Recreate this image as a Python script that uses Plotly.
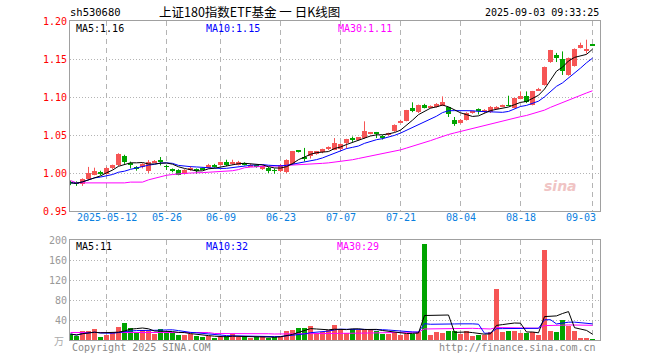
import plotly.graph_objects as go
import pandas as pd

# ---------------- data ----------------
dates = [
    "2025-04-29", "2025-04-30",
    "2025-05-06", "2025-05-07", "2025-05-08", "2025-05-09",
    "2025-05-12", "2025-05-13", "2025-05-14", "2025-05-15", "2025-05-16",
    "2025-05-19", "2025-05-20", "2025-05-21", "2025-05-22", "2025-05-23",
    "2025-05-26", "2025-05-27", "2025-05-28", "2025-05-29", "2025-05-30",
    "2025-06-03", "2025-06-04", "2025-06-05", "2025-06-06",
    "2025-06-09", "2025-06-10", "2025-06-11", "2025-06-12", "2025-06-13",
    "2025-06-16", "2025-06-17", "2025-06-18", "2025-06-19", "2025-06-20",
    "2025-06-23", "2025-06-24", "2025-06-25", "2025-06-26", "2025-06-27",
    "2025-06-30", "2025-07-01", "2025-07-02", "2025-07-03", "2025-07-04",
    "2025-07-07", "2025-07-08", "2025-07-09", "2025-07-10", "2025-07-11",
    "2025-07-14", "2025-07-15", "2025-07-16", "2025-07-17", "2025-07-18",
    "2025-07-21", "2025-07-22", "2025-07-23", "2025-07-24", "2025-07-25",
    "2025-07-28", "2025-07-29", "2025-07-30", "2025-07-31", "2025-08-01",
    "2025-08-04", "2025-08-05", "2025-08-06", "2025-08-07", "2025-08-08",
    "2025-08-11", "2025-08-12", "2025-08-13", "2025-08-14", "2025-08-15",
    "2025-08-18", "2025-08-19", "2025-08-20", "2025-08-21", "2025-08-22",
    "2025-08-25", "2025-08-26", "2025-08-27", "2025-08-28", "2025-08-29",
    "2025-09-01", "2025-09-02", "2025-09-03",
]

opens = [0.988, 0.987, 0.985, 0.992, 0.998, 1.001, 0.999, 1.006, 1.0105, 1.023,
         1.012, 1.007, 1.008, 1.002, 1.0145, 1.0165, 1.009, 1.005, 1.004, 0.999,
         1.005, 1.005, 1.0055, 1.0065, 1.011, 1.011, 1.014, 1.012, 1.011, 1.013,
         1.009, 1.0105, 1.005, 1.007, 1.0035, 1.002, 1.0008, 1.0122, 1.0295, 1.0205,
         1.022, 1.0254, 1.027, 1.032, 1.0307, 1.0316, 1.0395, 1.045, 1.0438, 1.046,
         1.052, 1.0525, 1.049, 1.050, 1.0547, 1.067, 1.069, 1.085, 1.080, 1.090,
         1.0855, 1.087, 1.0883, 1.0865, 1.070, 1.066, 1.070, 1.079, 1.084, 1.080,
         1.080, 1.084, 1.088, 1.089, 1.0855, 1.0974, 1.1017, 1.090, 1.1087, 1.116,
         1.1455, 1.1557, 1.150, 1.1293, 1.141, 1.1645, 1.160, 1.168]

highs = [0.990, 0.989, 0.993, 1.008, 1.007, 1.003, 1.008, 1.011, 1.026, 1.024,
         1.015, 1.009, 1.013, 1.017, 1.017, 1.021, 1.011, 1.006, 1.005, 1.005,
         1.009, 1.006, 1.007, 1.012, 1.012, 1.015, 1.0175, 1.0175, 1.016, 1.014,
         1.012, 1.011, 1.010, 1.008, 1.006, 1.012, 1.018, 1.029, 1.030, 1.033,
         1.029, 1.029, 1.032, 1.035, 1.046, 1.039, 1.045, 1.048, 1.047, 1.068,
         1.054, 1.054, 1.050, 1.053, 1.064, 1.070, 1.083, 1.093, 1.090, 1.091,
         1.089, 1.092, 1.1008, 1.087, 1.0737, 1.071, 1.080, 1.082, 1.085, 1.084,
         1.088, 1.088, 1.090, 1.1017, 1.099, 1.1074, 1.1074, 1.108, 1.112, 1.140,
         1.162, 1.158, 1.160, 1.152, 1.164, 1.1715, 1.1754, 1.168]

lows = [0.984, 0.983, 0.983, 0.991, 0.997, 0.997, 0.998, 1.005, 1.009, 1.012,
        1.006, 1.003, 1.006, 1.000, 1.013, 1.010, 1.004, 1.001, 0.997, 0.998,
        1.003, 0.999, 1.004, 1.006, 1.007, 1.010, 1.009, 1.011, 1.010, 1.010,
        1.008, 1.007, 1.004, 1.000, 0.999, 1.001, 1.000, 1.011, 1.027, 1.0153,
        1.019, 1.024, 1.026, 1.030, 1.030, 1.029, 1.032, 1.041, 1.043, 1.045,
        1.051, 1.046, 1.044, 1.049, 1.054, 1.066, 1.068, 1.080, 1.079, 1.085,
        1.085, 1.086, 1.088, 1.0737, 1.062, 1.065, 1.069, 1.078, 1.077, 1.079,
        1.079, 1.083, 1.087, 1.088, 1.085, 1.097, 1.092, 1.089, 1.108, 1.115,
        1.145, 1.146, 1.129, 1.128, 1.140, 1.164, 1.157, 1.1675]

closes = [0.987, 0.986, 0.992, 1.000, 1.003, 1.000, 1.006, 1.010, 1.025, 1.015,
          1.011, 1.006, 1.012, 1.015, 1.015, 1.016, 1.008, 1.004, 0.998, 1.004,
          1.0055, 1.002, 1.005, 1.011, 1.008, 1.014, 1.010, 1.014, 1.015, 1.011,
          1.011, 1.008, 1.0087, 1.0026, 1.003, 1.010, 1.0175, 1.0284, 1.029, 1.0197,
          1.0284, 1.0284, 1.0316, 1.033, 1.040, 1.038, 1.0447, 1.0447, 1.0468, 1.0547,
          1.0526, 1.052, 1.0455, 1.0526, 1.0636, 1.068, 1.0824, 1.081, 1.089, 1.0855,
          1.0886, 1.091, 1.093, 1.077, 1.065, 1.070, 1.079, 1.081, 1.081, 1.083,
          1.0868, 1.087, 1.0886, 1.0886, 1.0987, 1.1017, 1.093, 1.1074, 1.1105, 1.1395,
          1.1613, 1.1513, 1.1337, 1.1513, 1.163, 1.1688, 1.1635, 1.1679]

# volume, in 万 (10k) lots
volumes = [12, 8, 18, 18, 22, 6, 10, 14, 26, 34,
           24, 16, 20, 18, 12, 22, 16, 16, 10, 10,
           12, 8, 6, 8, 4, 6, 8, 12, 6, 8,
           4, 6, 8, 4, 6, 8, 18, 20, 24, 24,
           28, 14, 16, 20, 30, 23, 15, 23, 21, 23,
           21, 18, 12, 13, 17, 10, 13, 13, 17, 192,
           10, 16, 14, 18, 18, 12, 18, 8, 10, 10,
           16, 102, 16, 18, 18, 14, 14, 16, 10, 180,
           18, 17, 40, 29, 19, 5, 3, 2]

# MA30 of the first 29 sessions relies on history before the chart window
ma30_lead = [0.990, 0.987, 0.987, 0.987, 0.987, 0.987, 0.987, 0.987, 0.987, 0.987,
             0.988, 0.988, 0.988, 0.991, 0.993, 0.9955, 0.997, 0.998, 0.999, 0.9995,
             1.000, 1.000, 1.0005, 1.001, 1.0013, 1.0015, 1.002, 1.003, 1.0045]
vol_ma30_lead = [15, 15, 15, 15, 15, 15, 15, 15, 15, 15,
                 15, 15, 15, 15, 15, 15, 15, 15, 15, 15,
                 15, 15, 15, 15, 13, 13, 13, 13, 13]

tick_dates = ["2025-05-12", "2025-05-26", "2025-06-09", "2025-06-23", "2025-07-07",
              "2025-07-21", "2025-08-04", "2025-08-18", "2025-09-03"]
tick_labels = ["2025-05-12", "05-26", "06-09", "06-23", "07-07",
               "07-21", "08-04", "08-18", "09-03"]
price_ticks = [0.95, 1.00, 1.05, 1.10, 1.15, 1.20]
vol_ticks = [40, 80, 120, 160, 200]

code = "sh530680"
title_text = "上证180指数ETF基金 一 日K线图"
timestamp = "2025-09-03 09:33:25"

# ---------------- derived ----------------
n = len(dates)
idx = list(range(n))
c = pd.Series(closes)
ma5 = c.rolling(5, min_periods=1).mean()
ma10 = c.rolling(10, min_periods=1).mean()
ma30 = c.rolling(30).mean()
ma30.iloc[:len(ma30_lead)] = ma30_lead
v = pd.Series(volumes, dtype=float)
vma5 = v.rolling(5, min_periods=1).mean()
vma10 = v.rolling(10, min_periods=1).mean()
vma30 = v.rolling(30).mean()
vma30.iloc[:len(vol_ma30_lead)] = vol_ma30_lead

RED = "#f65555"
GREEN = "#00a400"
GRID = "#b4b4b4"
BORDER = "#a0a0a0"
MONO = "DejaVu Sans Mono"
CJK = "Noto Sans CJK SC"

up = [cl >= op for op, cl in zip(opens, closes)]
min_body = 0.0012

fig = go.Figure()

for is_up, col in ((True, RED), (False, GREEN)):
    sel = [i for i in idx if up[i] == is_up]
    # wicks
    wx, wy = [], []
    for i in sel:
        wx += [i, i, None]
        wy += [lows[i], highs[i], None]
    fig.add_trace(go.Scatter(x=wx, y=wy, mode="lines", line=dict(color=col, width=1),
                             hoverinfo="skip", xaxis="x", yaxis="y"))
    # bodies
    bases, hts = [], []
    for i in sel:
        lo, hi = min(opens[i], closes[i]), max(opens[i], closes[i])
        h = hi - lo
        if h < min_body:
            lo = (lo + hi) / 2 - min_body / 2
            h = min_body
        bases.append(lo)
        hts.append(h)
    fig.add_trace(go.Bar(x=sel, y=hts, base=bases, width=0.8, marker=dict(color=col, line=dict(width=0)),
                         xaxis="x", yaxis="y"))
    # volume bars
    fig.add_trace(go.Bar(x=sel, y=[volumes[i] for i in sel], width=0.8,
                         marker=dict(color=col, line=dict(width=0)), xaxis="x2", yaxis="y2"))

for s, col in ((ma30, "#ff00ff"), (ma10, "#0000ff"), (ma5, "#000000")):
    fig.add_trace(go.Scatter(x=idx, y=s, mode="lines", line=dict(color=col, width=1),
                             xaxis="x", yaxis="y"))
for s, col in ((vma30, "#ff00ff"), (vma10, "#0000ff"), (vma5, "#000000")):
    fig.add_trace(go.Scatter(x=idx, y=s, mode="lines", line=dict(color=col, width=1),
                             xaxis="x2", yaxis="y2"))

tick_idx = [dates.index(d) for d in tick_dates]
xr = [-1 / 12, n + 0.25]

L, R, T, B = 70, 60, 21, 20
W, H = 660, 360
PW, PH = W - L - R, H - T - B


def px(x):
    return (x - L) / PW


def py(y):
    return (H - B - y) / PH


common_x = dict(range=xr, tickvals=tick_idx, showticklabels=False, ticks="",
                showgrid=True, gridcolor=GRID, griddash="5px,4px", gridwidth=1,
                showline=True, mirror=True, linecolor=BORDER, linewidth=1, zeroline=False)

fig.update_layout(
    width=W, height=H, margin=dict(l=L, r=R, t=T, b=B),
    paper_bgcolor="white", plot_bgcolor="white", showlegend=False,
    barmode="overlay", bargap=0,
    xaxis=dict(domain=[0, 1], anchor="y", **common_x),
    xaxis2=dict(domain=[0, 1], anchor="y2", matches="x", **common_x),
    yaxis=dict(domain=[py(211), 1], anchor="x", range=[price_ticks[0], price_ticks[-1]],
               tickvals=price_ticks, ticktext=[f"{t:.2f}" for t in price_ticks],
               tickfont=dict(color="#ff0000", size=10, family=MONO), ticks="",
               showgrid=True, gridcolor=GRID, griddash="1px,2px", gridwidth=1,
               showline=True, mirror=True, linecolor=BORDER, linewidth=1, zeroline=False),
    yaxis2=dict(domain=[0, py(240)], anchor="x2", range=[0, vol_ticks[-1]],
                tickvals=vol_ticks, ticktext=[str(t) for t in vol_ticks],
                tickfont=dict(color="#999999", size=10, family=MONO), ticks="",
                showgrid=True, gridcolor=GRID, griddash="1px,2px", gridwidth=1,
                showline=True, mirror=True, linecolor=BORDER, linewidth=1, zeroline=False),
)

ann = []


def txt(x, y, s, color="#000000", size=10, family=MONO, xanchor="left", **kw):
    ann.append(dict(x=px(x), y=py(y), xref="paper", yref="paper", text=s, showarrow=False,
                    xanchor=xanchor, yanchor="middle", font=dict(color=color, size=size, family=family), **kw))


txt(68, 12.5, code, size=10.5)
txt(249, 12, title_text, size=12.5, family=CJK, xanchor="center")
txt(601, 12.5, timestamp, size=10, xanchor="right")

txt(74, 28, f"MA5:{ma5.iloc[-1]:.2f}")
txt(204, 28, f"MA10:{ma10.iloc[-1]:.2f}", color="#0000ff")
txt(336, 28, f"MA30:{ma30.iloc[-1]:.2f}", color="#ff00ff")

txt(74, 247, f"MA5:{int(vma5.iloc[-1])}")
txt(204, 247, f"MA10:{int(vma10.iloc[-1])}", color="#0000ff")
txt(335, 247, f"MA30:{int(vma30.iloc[-1])}", color="#ff00ff")

txt(66, 340, "万", color="#aaaaaa", size=10, family=CJK, xanchor="right")

txt(70, 347, "Copyright 2025 SINA.COM", color="#888888", size=10)
txt(598, 347, "http://finance.sina.com.cn", color="#888888", size=10, xanchor="right")

txt(560, 186, "<b><i>sina</i></b>", color="#f0c4c4", size=14, family="DejaVu Sans", xanchor="center")

for k, (ti, lab) in enumerate(zip(tick_idx, tick_labels)):
    if k == len(tick_idx) - 1:
        ann.append(dict(x=px(598), y=py(217), xref="paper", yref="paper", text=lab, showarrow=False,
                        xanchor="right", yanchor="middle", font=dict(color="#0a80e0", size=10, family=MONO)))
    else:
        ann.append(dict(x=ti, y=py(217), xref="x", yref="paper", text=lab, showarrow=False,
                        xanchor="center", yanchor="middle", font=dict(color="#0a80e0", size=10, family=MONO)))

fig.update_layout(annotations=ann)
fig.write_html("out.html", config={"displayModeBar": False},
               post_script="document.body.style.margin='0';document.body.style.padding='0';")
